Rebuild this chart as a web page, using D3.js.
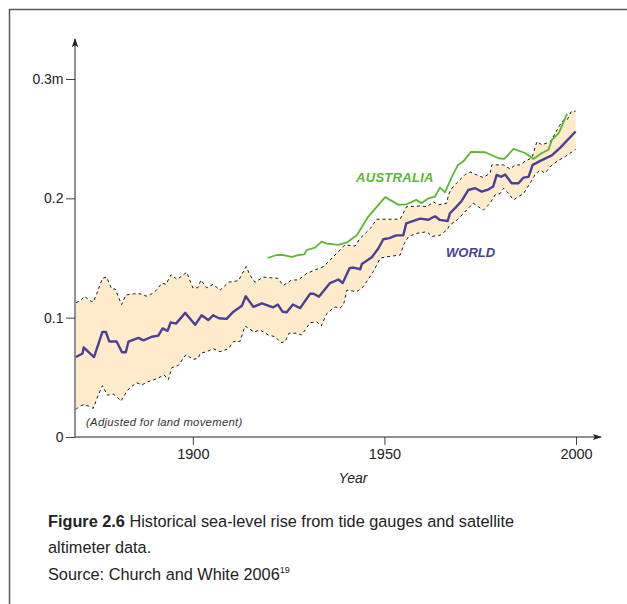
<!DOCTYPE html>
<html lang="en">
<head>
<meta charset="UTF-8">
<title>Sea-level rise</title>
<script src="https://cdn.jsdelivr.net/npm/d3@7"></script>
<style>
  body { margin: 0; background: #fff; }
  text { font-family: "Liberation Sans", Arial, sans-serif; }
</style>
</head>
<body>
<svg width="627" height="604"></svg>
<script>
// world (Church & White)
var worldYears = [1869.5,1871.2,1871.5,1874.2,1876.4,1877.3,1878.2,1880.1,1881.5,1882.5,1883.2,1885.8,1887.1,1889.3,1891.0,1892.1,1893.4,1894.2,1895.6,1898.0,
  1900.6,1902.3,1904.0,1905.3,1906.8,1908.8,1910.6,1912.8,1913.8,1915.8,1918.0,1919.7,1921.0,1922.2,1923.4,1924.5,1926.1,1928.0,1930.6,1931.5,1932.9,
  1935.8,1938.0,1939.1,1940.9,1941.9,1943.7,1944.1,1946.7,1948.4,1949.7,1951.3,1953.1,1954.9,1955.7,1959.3,1961.5,1963.2,1964.4,1966.5,1967.1,1968.5,
  1970.2,1971.9,1973.7,1975.4,1977.2,1978.4,1979.3,1980.5,1981.5,1983.2,1985.0,1986.3,1987.6,1988.7,1991.1,1993.7,1995.9,1999.9];
var worldValues = [0.067,0.070,0.075,0.067,0.088,0.088,0.080,0.080,0.071,0.071,0.080,0.083,0.081,0.084,0.085,0.091,0.089,0.096,0.095,0.104,
  0.094,0.102,0.098,0.102,0.0995,0.099,0.105,0.110,0.118,0.109,0.112,0.110,0.1087,0.111,0.105,0.1045,0.111,0.108,0.120,0.120,0.1176,
  0.129,0.132,0.129,0.1414,0.142,0.1406,0.145,0.1506,0.158,0.1657,0.1666,0.169,0.169,0.179,0.183,0.182,0.185,0.182,0.181,0.1875,0.192,
  0.198,0.207,0.2085,0.2056,0.2076,0.210,0.2196,0.218,0.220,0.2126,0.2126,0.2174,0.218,0.228,0.232,0.236,0.2425,0.256];

// upper edge of uncertainty band
var upperYears = [1869.5,1870.5,1871.8,1872.7,1874.0,1874.9,1876.4,1877.5,1878.8,1879.7,1881.4,1882.5,1884.5,1886.2,1887.8,1889.3,1890.5,1891.9,1893.0,1894.3,1895.9,1898.4,
  1900.0,1901.3,1902.1,1903.6,1905.3,1907.1,1909.3,1911.9,1913.9,1914.9,1916.2,1918.4,1920.2,1922.2,1923.6,1925.8,1927.5,1929.7,1931.9,1934.1,1935.6,
  1937.1,1939.7,1942.3,1943.7,1946.4,1948.0,1954.1,1955.8,1959.3,1961.1,1962.8,1964.1,1966.3,1966.7,1967.5,1968.9,1971.1,1972.4,1974.1,1975.8,1977.6,
  1978.0,1981.1,1982.8,1984.1,1985.4,1986.7,1988.5,1989.8,1991.1,1993.3,1994.6,1995.5,1996.8,1997.7,1998.8,1999.9];
var upperValues = [0.1126,0.114,0.118,0.115,0.113,0.120,0.133,0.134,0.124,0.124,0.111,0.119,0.120,0.120,0.118,0.120,0.123,0.129,0.128,0.136,0.132,0.138,
  0.125,0.125,0.1316,0.125,0.128,0.123,0.1297,0.131,0.1428,0.1358,0.1297,0.134,0.1335,0.133,0.127,0.1316,0.1316,0.137,0.140,0.1428,0.1475,
  0.1525,0.161,0.160,0.1666,0.175,0.1825,0.1825,0.193,0.1936,0.193,0.197,0.1945,0.196,0.203,0.208,0.213,0.220,0.222,0.2196,0.2174,0.221,
  0.228,0.228,0.2246,0.228,0.228,0.231,0.234,0.2475,0.2448,0.2475,0.2546,0.260,0.2657,0.2657,0.273,0.273];

// lower edge of uncertainty band
var lowerYears = [1869.5,1870.1,1871.4,1872.7,1874.0,1875.3,1876.4,1877.7,1879.2,1880.1,1881.2,1882.9,1883.9,1885.3,1886.7,1888.0,1890.7,1892.5,1893.6,1894.5,1896.2,1898.2,
  1900.1,1901.4,1901.9,1903.6,1905.3,1907.1,1909.3,1910.6,1912.3,1913.6,1916.0,1917.5,1919.7,1921.5,1923.0,1924.1,1925.1,1927.1,1928.4,1930.6,1932.3,1933.5,
  1935.0,1937.1,1938.4,1939.3,1940.2,1942.8,1944.5,1947.1,1948.9,1950.6,1954.1,1955.0,1956.3,1958.5,1961.1,1962.4,1964.5,1966.3,1967.1,1969.0,
  1971.9,1973.2,1974.5,1975.8,1977.6,1978.9,1980.2,1981.1,1982.0,1983.7,1985.0,1986.3,1988.0,1989.3,1990.6,1991.9,1993.3,1995.5,1997.2,1999.9];
var lowerValues = [0.023,0.025,0.027,0.026,0.024,0.035,0.043,0.035,0.036,0.034,0.030,0.039,0.042,0.0455,0.0436,0.046,0.049,0.052,0.048,0.058,0.060,0.069,
  0.065,0.066,0.070,0.0715,0.074,0.0715,0.074,0.080,0.080,0.093,0.088,0.0897,0.0855,0.084,0.079,0.080,0.087,0.087,0.0855,0.0958,0.0966,0.093,
  0.1037,0.109,0.108,0.1106,0.123,0.1218,0.126,0.1386,0.1498,0.151,0.1525,0.161,0.168,0.1707,0.172,0.168,0.169,0.1735,0.1777,0.182,
  0.1917,0.196,0.193,0.190,0.196,0.203,0.204,0.2085,0.2056,0.1987,0.2015,0.204,0.2126,0.2196,0.2238,0.221,0.2266,0.232,0.235,0.241];

// Australia
var ausYears = [1919.5,1921.9,1923.6,1925.8,1927.5,1929.1,1929.7,1931.9,1933.6,1935.0,1938.0,1940.2,1942.8,1945.8,1950.2,1953.7,1955.8,1958.3,1959.7,1961.5,
  1963.2,1964.5,1965.8,1967.6,1969.2,1970.6,1972.6,1976.3,1979.8,1981.3,1983.7,1986.7,1988.9,1991.1,1992.8,1993.7,1995.5,1997.7];
var ausValues = [0.150,0.1525,0.1525,0.151,0.1525,0.153,0.1567,0.1587,0.1637,0.162,0.161,0.163,0.169,0.1847,0.201,0.1945,0.195,0.1987,0.196,0.200,
  0.2015,0.209,0.205,0.218,0.228,0.231,0.239,0.2386,0.2336,0.233,0.2414,0.238,0.233,0.238,0.2406,0.249,0.2546,0.271];

var xTicks = [1900, 1950, 2000];
var yTicks = [0, 0.1, 0.2, 0.3];
var yTickLabels = ["0", "0.1", "0.2", "0.3m"];

function pairs(xs, ys) {
  return xs.map(function(d, i) { return [d, ys[i]]; });
}

var svg = d3.select('svg');

// frame
svg.append('path')
  .attr('d', 'M9.5,604V9.5H627')
  .attr('fill', 'none')
  .attr('stroke', '#5a5a5a')
  .attr('stroke-width', 1.5);

var x = d3.scaleLinear().domain([1869.5, 2000]).range([76, 576]);
var y = d3.scaleLinear().domain([0, 0.3]).range([437, 79]);

var line = d3.line()
  .x(function(d) { return x(d[0]); })
  .y(function(d) { return y(d[1]); });

var upper = pairs(upperYears, upperValues);
var lower = pairs(lowerYears, lowerValues);

// band fill: upper edge forwards, lower edge back
svg.append('path')
  .attr('d', line(upper.concat(lower.slice().reverse())) + 'Z')
  .attr('fill', '#fdebcc')
  .attr('stroke', 'none');

[upper, lower].forEach(function(edge) {
  svg.append('path')
    .attr('d', line(edge))
    .attr('fill', 'none')
    .attr('stroke', '#1a1a1a')
    .attr('stroke-width', 1)
    .attr('stroke-dasharray', '3,3');
});

svg.append('path')
  .attr('d', line(pairs(ausYears, ausValues)))
  .attr('fill', 'none')
  .attr('stroke', '#5db534')
  .attr('stroke-width', 1.8)
  .attr('stroke-linejoin', 'round');

svg.append('path')
  .attr('d', line(pairs(worldYears, worldValues)))
  .attr('fill', 'none')
  .attr('stroke', '#4b3f96')
  .attr('stroke-width', 2.4)
  .attr('stroke-linejoin', 'round');

// arrow heads
var defs = svg.append('defs');
defs.append('marker')
  .attr('id', 'arrow')
  .attr('viewBox', '0 0 10 10')
  .attr('refX', 9).attr('refY', 5)
  .attr('markerWidth', 9).attr('markerHeight', 9)
  .attr('markerUnits', 'userSpaceOnUse')
  .attr('orient', 'auto')
  .append('path')
  .attr('d', 'M0,1.5L10,5L0,8.5L2,5Z')
  .attr('fill', '#222');

// axes
var xAxis = svg.append('g')
  .attr('transform', 'translate(0,437)')
  .call(d3.axisBottom(x).tickValues(xTicks).tickFormat(d3.format('d')).tickSize(8).tickPadding(4));
xAxis.select('.domain').remove();
xAxis.append('line')
  .attr('x1', 75).attr('x2', 601)
  .attr('stroke', '#222').attr('stroke-width', 1)
  .attr('marker-end', 'url(#arrow)');
xAxis.selectAll('.tick text').attr('font-size', '14.5px');

var yAxis = svg.append('g')
  .attr('transform', 'translate(75,0)')
  .call(d3.axisLeft(y).tickValues(yTicks).tickFormat(function(d, i) { return yTickLabels[i]; }).tickSize(9).tickPadding(2.5));
yAxis.select('.domain').remove();
yAxis.append('line')
  .attr('y1', 437).attr('y2', 39)
  .attr('stroke', '#222').attr('stroke-width', 1)
  .attr('marker-end', 'url(#arrow)');
yAxis.selectAll('.tick text').attr('font-size', '14px');

svg.selectAll('.tick line').attr('stroke', '#444');
svg.selectAll('.tick text')
  .attr('fill', '#222')
  .attr('font-family', '"Liberation Sans", Arial, sans-serif');

svg.append('text')
  .attr('x', 353).attr('y', 483)
  .attr('text-anchor', 'middle')
  .attr('font-size', '14px')
  .attr('font-style', 'italic')
  .attr('fill', '#222')
  .text('Year');

// series labels
svg.append('text')
  .attr('x', 356).attr('y', 182)
  .attr('font-size', '13px')
  .attr('font-weight', 'bold')
  .attr('font-style', 'italic')
  .attr('letter-spacing', '0.3px')
  .attr('fill', '#5db534')
  .text('AUSTRALIA');

svg.append('text')
  .attr('x', 446).attr('y', 257)
  .attr('font-size', '13px')
  .attr('font-weight', 'bold')
  .attr('font-style', 'italic')
  .attr('fill', '#4b3f96')
  .text('WORLD');

svg.append('text')
  .attr('x', 86).attr('y', 426)
  .attr('font-size', '11.3px')
  .attr('font-style', 'italic')
  .attr('letter-spacing', '0.3px')
  .attr('fill', '#333')
  .text('(Adjusted for land movement)');

// caption
var cap = svg.append('g').attr('fill', '#222').attr('font-size', '16.3px');
var l1 = cap.append('text').attr('x', 48).attr('y', 527);
l1.append('tspan').attr('font-weight', 'bold').text('Figure 2.6');
l1.append('tspan').text(' Historical sea-level rise from tide gauges and satellite');
cap.append('text').attr('x', 48).attr('y', 553).text('altimeter data.');
var l3 = cap.append('text').attr('x', 48).attr('y', 580);
l3.append('tspan').text('Source: Church and White 2006');
l3.append('tspan').attr('font-size', '9px').attr('dy', '-7').text('19');
</script>
</body>
</html>
